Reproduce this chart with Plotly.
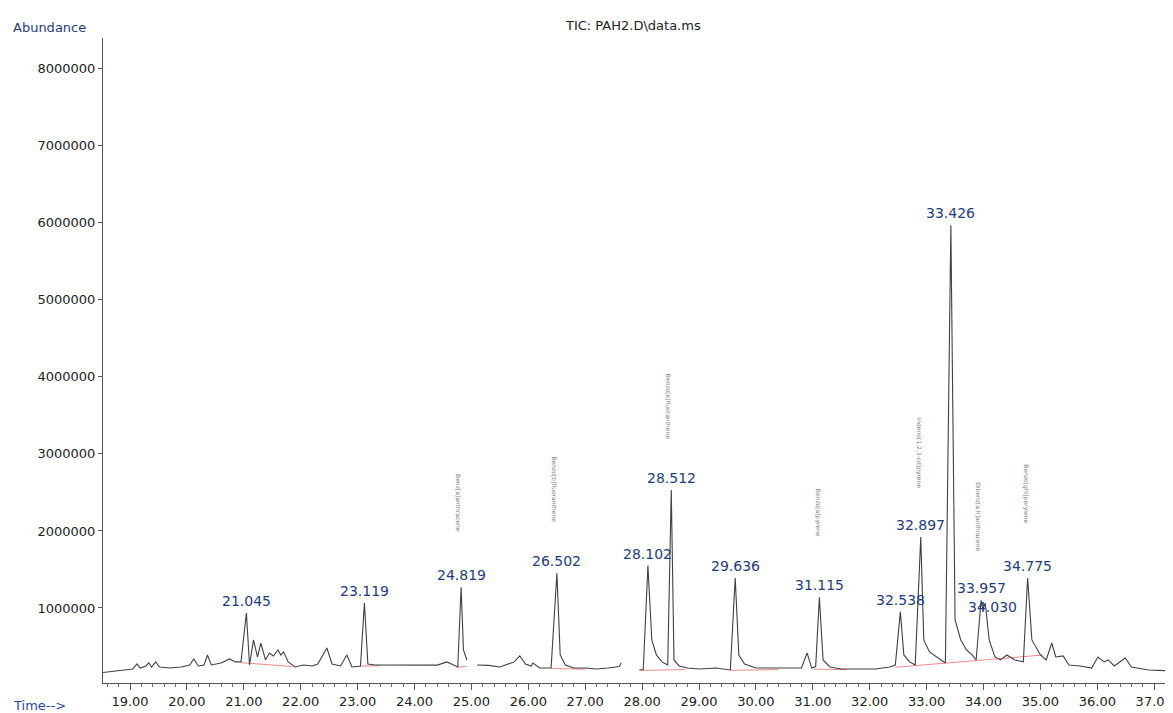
import plotly.graph_objects as go

# ---- data ----
time_min = [18.45, 18.7, 18.9, 19.05, 19.12, 19.18, 19.28, 19.33, 19.38, 19.45, 19.52, 19.7, 19.9,
            20.05, 20.12, 20.2, 20.3, 20.36, 20.43, 20.6, 20.75, 20.85, 20.95, 21.045, 21.1, 21.17,
            21.24, 21.3, 21.38, 21.45, 21.52, 21.6, 21.65, 21.7, 21.78, 21.9, 22.05, 22.2, 22.3,
            22.46, 22.55, 22.7, 22.81, 22.9, 23.05, 23.119, 23.18, 23.3, 23.5, 23.8, 24.1, 24.4,
            24.57, 24.68, 24.76, 24.819, 24.86, 24.92, None,
            25.1, 25.3, 25.5, 25.75, 25.85, 25.95, 26.05, 26.08, 26.2, 26.4, 26.502, 26.56, 26.65,
            26.8, 27.0, 27.2, 27.4, 27.6, 27.63, None,
            27.95, 28.02, 28.102, 28.17, 28.25, 28.35, 28.45, 28.512, 28.56, 28.65, 28.8, 29.0,
            29.3, 29.55, 29.636, 29.7, 29.8, 30.0, 30.4, 30.6, 30.8, 30.9, 30.98, 31.05, 31.115,
            31.18, 31.3, 31.5, 31.8, 32.1, 32.35, 32.45, 32.538, 32.6, 32.7, 32.8, 32.897, 32.95,
            33.05, 33.2, 33.33, 33.426, 33.5, 33.6, 33.7, 33.8, 33.87, 33.957, 33.99, 34.03, 34.1,
            34.2, 34.3, 34.41, 34.55, 34.7, 34.775, 34.85, 35.0, 35.1, 35.2, 35.27, 35.4, 35.5,
            35.7, 35.9, 36.01, 36.12, 36.19, 36.3, 36.49, 36.6, 36.9, 37.33]
abundance = [156000, 182000, 195000, 208000, 273000, 220000, 247000, 286000, 234000, 300000, 234000,
             220000, 234000, 260000, 338000, 247000, 260000, 390000, 260000, 286000, 338000, 300000,
             300000, 935000, 260000, 585000, 364000, 545000, 325000, 416000, 377000, 455000, 390000,
             430000, 300000, 234000, 260000, 247000, 273000, 480000, 273000, 247000, 390000, 234000,
             247000, 1065000, 273000, 260000, 260000, 255000, 262000, 258000, 300000, 262000, 234000,
             1270000, 455000, 325000, None,
             260000, 255000, 234000, 300000, 377000, 273000, 247000, 286000, 220000, 220000, 1450000,
             390000, 260000, 220000, 220000, 208000, 220000, 240000, 286000, None,
             195000, 200000, 1550000, 585000, 390000, 300000, 260000, 2530000, 325000, 247000,
             220000, 208000, 220000, 195000, 1390000, 390000, 273000, 220000, 220000, 220000,
             220000, 416000, 220000, 240000, 1140000, 325000, 234000, 208000, 208000, 208000,
             234000, 260000, 950000, 390000, 300000, 260000, 1920000, 585000, 430000, 350000,
             286000, 5970000, 845000, 585000, 455000, 390000, 325000, 1100000, 975000, 1065000,
             585000, 364000, 325000, 390000, 325000, 300000, 1390000, 585000, 390000, 325000,
             545000, 364000, 377000, 260000, 247000, 220000, 364000, 300000, 325000, 247000,
             350000, 234000, 195000, 182000]

# integration baselines (red)
base_t = [20.95, 21.85, None, 23.03, 23.4, None, 24.74, 24.92, None, 26.4, 27.0, None,
          27.98, 28.75, None, 29.55, 30.4, None, 31.0, 31.6, None, 32.45, 33.35, 35.05]
base_a = [290000, 240000, None, 245000, 250000, None, 232000, 240000, None, 215000, 205000, None,
          190000, 200000, None, 190000, 200000, None, 205000, 200000, None, 230000, 285000, 390000]

peak_times = [21.045, 23.119, 24.819, 26.502, 28.102, 28.512, 29.636, 31.115, 32.538,
              32.897, 33.426, 33.957, 34.030, 34.775]
peak_heights = [935000, 1065000, 1270000, 1450000, 1550000, 2530000, 1390000, 1140000,
                950000, 1920000, 5970000, 1100000, 1065000, 1390000]
peak_labels = ["21.045", "23.119", "24.819", "26.502", "28.102", "28.512", "29.636", "31.115",
               "32.538", "32.897", "33.426", "33.957", "34.030", "34.775"]

compound_times = [24.819, 26.502, 28.512, 31.115, 32.897, 33.957, 34.775]
compound_heights = [1270000, 1450000, 2530000, 1140000, 1920000, 1100000, 1390000]
compound_names = ["Benz[a]anthracene", "Benzo[b]fluoranthene", "Benzo[k]fluoranthene",
                  "Benzo[a]pyrene", "Indeno[1,2,3-cd]pyrene", "Dibenz[a,h]anthracene",
                  "Benzo[ghi]perylene"]

y_ticks = [1000000, 2000000, 3000000, 4000000, 5000000, 6000000, 7000000, 8000000]
x_ticks = list(range(19, 38))

fig = go.Figure()
fig.add_trace(go.Scatter(x=base_t, y=base_a, mode="lines",
                         line=dict(color="rgba(230,90,90,0.7)", width=1), hoverinfo="skip",
                         connectgaps=False, showlegend=False))
fig.add_trace(go.Scatter(x=time_min, y=abundance, mode="lines",
                         line=dict(color="#404040", width=1.1), connectgaps=False,
                         showlegend=False))

label_col = "#1f3c7a"
for t, h, s in zip(peak_times, peak_heights, peak_labels):
    dx = 0
    dy = 2
    if s == "34.030":
        dx, dy = 7, -14
    fig.add_annotation(x=t, y=h, text=s, showarrow=False, yanchor="bottom",
                       xshift=dx, yshift=dy,
                       font=dict(family="DejaVu Sans", size=14, color=label_col))

for t, h, s in zip(compound_times, compound_heights, compound_names):
    fig.add_annotation(x=t, y=h, text=s, showarrow=False, textangle=90,
                       yanchor="middle", yshift=84, xshift=-2,
                       font=dict(family="DejaVu Sans", size=6, color="#808080"))

fig.add_annotation(xref="paper", yref="paper", x=0.5, y=1.0, yshift=3, xshift=-5,
                   text="TIC: PAH2.D\\data.ms",
                   showarrow=False, xanchor="center", yanchor="bottom",
                   font=dict(family="DejaVu Sans", size=13, color="#222222"))
fig.add_annotation(xref="paper", yref="paper", x=0, y=1.0, xshift=-92, yshift=1, text="Abundance",
                   showarrow=False, xanchor="left", yanchor="bottom",
                   font=dict(family="DejaVu Sans", size=13, color="#1f3c7a"))
fig.add_annotation(xref="paper", yref="paper", x=0, y=0, xshift=-92, yshift=-13, text="Time-->",
                   showarrow=False, xanchor="left", yanchor="top",
                   font=dict(family="DejaVu Sans", size=13, color="#2a4a9a"))

# figure is offset 8px by the page body margin, so it is sized to fill the remaining window
fig.update_layout(
    width=1165, height=705,
    margin=dict(l=95, r=0, t=30, b=30),
    plot_bgcolor="white", paper_bgcolor="white",
    xaxis=dict(range=[18.525, 37.33], tickvals=x_ticks, tickformat=".2f",
               showline=True, linecolor="#555555", linewidth=1, mirror=False,
               ticks="outside", ticklen=6, tickcolor="#555555", showgrid=False, zeroline=False,
               minor=dict(dtick=0.2, tick0=19, ticks="outside", ticklen=3, tickcolor="#666666"),
               tickfont=dict(family="DejaVu Sans", size=13, color="#222222")),
    yaxis=dict(range=[26000, 8400000], tickvals=y_ticks, tickformat="d",
               showline=True, linecolor="#555555", linewidth=1,
               ticks="outside", ticklen=4, tickcolor="#555555", showgrid=False, zeroline=False,
               tickfont=dict(family="DejaVu Sans", size=13, color="#222222")),
)

fig.write_html("out.html")
